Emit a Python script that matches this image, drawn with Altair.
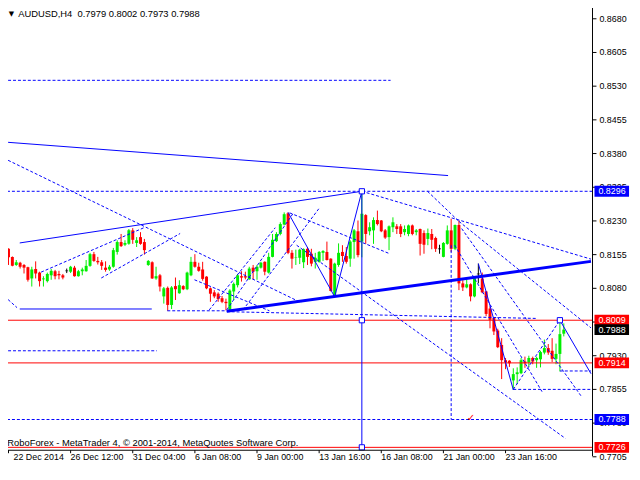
import altair as alt
import pandas as pd

# ---------------- candle data (H4 bars, index 0..143) ----------------
opens = [.8168, .8150, .8132, .8137, .8132, .8127, .8102, .8123, .8115, .8100,
         .8096, .8109, .8118, .8112, .8109, .8119, .8117, .8126, .8107, .8118,
         .8118, .8130, .8156, .8141, .8138, .8126, .8122, .8128, .8161, .8183,
         .8177, .8179, .8209, .8181, .8194, .8183, .8132, .8138, .8102, .8109,
         .8062, .8081, .8043, .8085, .8069, .8085, .8078, .8109, .8139, .8128,
         .8122, .8106, .8080, .8071, .8068, .8058, .8050, .8032, .8073, .8087,
         .8107, .8107, .8100, .8126, .8118, .8126, .8139, .8115, .8150, .8185,
         .8201, .8222, .8247, .8159, .8148, .8148, .8138, .8168, .8157, .8139,
         .8139, .8159, .8161, .8146, .8062, .8132, .8161, .8152, .8146, .8183,
         .8207, .8184, .8243, .8207, .8209, .8232, .8231, .8209, .8194, .8216,
         .8218, .8218, .8205, .8201, .8220, .8205, .8212, .8203, .8190, .8201,
         .8192, .8168, .8150, .8179, .8209, .8168, .8221, .8091, .8082, .8089,
         .8062, .8112, .8102, .8073, .8035, .8014, .7986, .7954, .7920, .7919,
         .7875, .7889, .7891, .7917, .7915, .7925, .7920, .7922, .7937, .7947,
         .7941, .7923, .7934, .7979]
highs = [.8169, .8151, .8143, .8139, .8134, .8128, .8128, .8140, .8117, .8107,
         .8115, .8123, .8121, .8119, .8112, .8124, .8130, .8130, .8121, .8126,
         .8143, .8159, .8161, .8150, .8143, .8140, .8132, .8170, .8187, .8201,
         .8187, .8212, .8214, .8194, .8205, .8190, .8143, .8140, .8128, .8112,
         .8083, .8084, .8085, .8104, .8098, .8087, .8117, .8150, .8156, .8137,
         .8139, .8107, .8082, .8076, .8071, .8063, .8057, .8078, .8093, .8112,
         .8118, .8117, .8128, .8132, .8132, .8139, .8140, .8159, .8201, .8205,
         .8227, .8249, .8249, .8165, .8166, .8168, .8169, .8172, .8168, .8159,
         .8163, .8165, .8184, .8147, .8137, .8180, .8176, .8172, .8187, .8212,
         .8231, .8296, .8245, .8227, .8238, .8253, .8232, .8212, .8220, .8238,
         .8223, .8223, .8220, .8222, .8222, .8212, .8213, .8209, .8213, .8212,
         .8195, .8177, .8183, .8220, .8235, .8222, .8231, .8098, .8100, .8091,
         .8106, .8135, .8115, .8074, .8040, .8015, .7990, .7969, .7925, .7920,
         .7902, .7904, .7925, .7928, .7930, .7928, .7928, .7941, .7966, .7956,
         .7969, .7957, .8009, .8002]
lows = [.8132, .8129, .8130, .8124, .8113, .8095, .8084, .8102, .8084, .8084,
        .8093, .8099, .8100, .8100, .8100, .8114, .8114, .8106, .8106, .8109,
        .8117, .8128, .8139, .8133, .8121, .8117, .8119, .8126, .8155, .8172,
        .8174, .8177, .8179, .8172, .8177, .8155, .8130, .8101, .8099, .8073,
        .8046, .8030, .8034, .8054, .8068, .8076, .8076, .8107, .8126, .8117,
        .8097, .8078, .8050, .8058, .8050, .8047, .8031, .8029, .8054, .8082,
        .8095, .8100, .8099, .8100, .8099, .8124, .8109, .8113, .8149, .8183,
        .8198, .8220, .8156, .8124, .8132, .8134, .8125, .8132, .8129, .8124,
        .8137, .8141, .8142, .8073, .8061, .8128, .8139, .8135, .8128, .8146,
        .8149, .8149, .8179, .8198, .8179, .8220, .8205, .8190, .8165, .8205,
        .8201, .8194, .8198, .8196, .8198, .8198, .8153, .8157, .8176, .8167,
        .8161, .8157, .8149, .8177, .8161, .8165, .8076, .8074, .8080, .8051,
        .8060, .8091, .8069, .8018, .7991, .7976, .7947, .7878, .7900, .7905,
        .7854, .7867, .7889, .7903, .7904, .7911, .7903, .7904, .7933, .7932,
        .7916, .7911, .7895, .7973]
closes = [.8149, .8130, .8138, .8128, .8126, .8099, .8122, .8113, .8096, .8102,
          .8112, .8119, .8107, .8109, .8104, .8119, .8128, .8107, .8118, .8122,
          .8130, .8156, .8141, .8138, .8130, .8121, .8128, .8165, .8183, .8174,
          .8181, .8209, .8188, .8187, .8179, .8165, .8141, .8102, .8107, .8084,
          .8080, .8043, .8082, .8078, .8087, .8078, .8115, .8139, .8128, .8119,
          .8101, .8080, .8068, .8062, .8056, .8050, .8047, .8075, .8090, .8109,
          .8104, .8104, .8124, .8117, .8128, .8137, .8117, .8150, .8188, .8201,
          .8223, .8245, .8159, .8146, .8149, .8166, .8167, .8150, .8135, .8148,
          .8161, .8163, .8143, .8074, .8135, .8159, .8152, .8139, .8184, .8209,
          .8154, .8246, .8201, .8216, .8232, .8223, .8207, .8193, .8218, .8227,
          .8212, .8201, .8212, .8220, .8201, .8209, .8179, .8177, .8203, .8188,
          .8168, .8168, .8181, .8209, .8168, .8221, .8091, .8082, .8089, .8062,
          .8104, .8112, .8071, .8023, .8010, .7984, .7949, .7920, .7915, .7913,
          .7889, .7893, .7920, .7913, .7925, .7917, .7925, .7938, .7947, .7937,
          .7923, .7934, .7978, .7988]

# ---------------- axes ----------------
time_label_bars = [0, 16, 32, 48, 64, 80, 96, 112, 128]
time_labels = ["22 Dec 2014", "26 Dec 12:00", "31 Dec 04:00", "6 Jan 08:00", "9 Jan 00:00",
               "13 Jan 16:00", "16 Jan 08:00", "21 Jan 00:00", "23 Jan 16:00"]
price_ticks = [0.8680, 0.8605, 0.8530, 0.8455, 0.8380, 0.8305, 0.8230, 0.8155,
               0.8080, 0.8005, 0.7930, 0.7855, 0.7780, 0.7705]
# 0.8005 sits fully under the 0.8009 / 0.7988 price tags, so its text is not shown
price_label_values = [0.8680, 0.8605, 0.8530, 0.8455, 0.8380, 0.8305, 0.8230, 0.8155,
                      0.8080, 0.7930, 0.7855, 0.7780, 0.7705]

# ---------------- drawn objects (bar index, price) ----------------
seg_bar1 = [-0.1, 2.9, 2.9, 91, 72, 84, 142, 121,
            56.2,
            -0.1, 8.4, 23.9, 40.9, 56.2, 51.7, 56.2, 60.4, 72.4, 47.9, 91, 107.9,
            116, 116.7, 114.9, 74.2, 130, 142, 114, -0.1, -0.1, -0.1, 130]
seg_price1 = [0.8405, 0.8181, 0.8034, 0.8296, 0.8249, 0.8061, 0.8009, 0.8135,
              0.8029,
              0.8365, 0.8116, 0.8103, 0.8030, 0.8028, 0.8032, 0.8032, 0.8032, 0.8248, 0.8099, 0.8296, 0.8296,
              0.8229, 0.8213, 0.8176, 0.8176, 0.7855, 0.7896, 0.8176, 0.8055, 0.8543, 0.7941, 0.7855]
seg_bar2 = [113.2, 91, 36.9, 91, 84, 91, 150, 130,
            150,
            75.4, 34.9, 44.2, 56.2, 135.9, 68.7, 73.4, 79.9, 97.9, 67.2, 150, 116,
            150, 147.4, 137.4, 143.4, 150, 150, 114, 2.2, 98.4, 38.2, 142]
seg_price2 = [0.8331, 0.8296, 0.8034, 0.7726, 0.8061, 0.8296, 0.7890, 0.7854,
              0.8140,
              0.8048, 0.8215, 0.8202, 0.8030, 0.8013, 0.8215, 0.8248, 0.8257, 0.8158, 0.8030, 0.8145, 0.8229,
              0.7992, 0.7841, 0.7850, 0.7746, 0.7855, 0.7896, 0.7788, 0.8037, 0.8543, 0.7941, 0.8009]
seg_kind = (["thin"] * 8 + ["thick"] + ["dash"] * 23)

red_levels = [0.8009, 0.7914, 0.7726]
blue_levels = [0.8296, 0.7788]
marker_bars = [91, 91, 91, 142]
marker_prices = [0.8296, 0.8009, 0.7726, 0.8009]

box_prices = [0.8296, 0.8009, 0.7988, 0.7914, 0.7788, 0.7726]
box_texts = ["0.8296", "0.8009", "0.7988", "0.7914", "0.7788", "0.7726"]
box_colors = ["#0000ff", "#ff0000", "#000000", "#ff0000", "#0000ff", "#ff0000"]

header = "AUDUSD,H4\u00a0\u00a00.7979 0.8002 0.7973 0.7988"
footer = "RoboForex - MetaTrader 4, \u00a9 2001-2014, MetaQuotes Software Corp."
check_bar, check_price = 119.05, 0.7792

# ---------------- build ----------------
W, H = 597, 451
XDOM = [-0.125, 149.125]
YDOM = [0.771956, 0.871077]
FONT = "Liberation Sans"
BLUE = "#0000ff"

n = len(opens)
df = pd.DataFrame({"bar": list(range(n)), "open": opens, "high": highs,
                   "low": lows, "close": closes})
df["dir"] = ["up" if c > o else ("down" if c < o else "flat") for o, c in zip(opens, closes)]
seg = pd.DataFrame({"b1": seg_bar1, "p1": seg_price1, "b2": seg_bar2, "p2": seg_price2, "kind": seg_kind})

xs = alt.Scale(domain=XDOM, nice=False, zero=False)
ys = alt.Scale(domain=YDOM, nice=False, zero=False)


def X(f):
    return alt.X(f, scale=xs, axis=None)


def Y(f):
    return alt.Y(f, scale=ys, axis=None)


col = alt.Color("dir:N", scale=alt.Scale(domain=["up", "down", "flat"],
                                         range=["#00ee00", "#ff0000", "#000000"]), legend=None)

base = alt.Chart(df)
wicks = base.mark_rule(strokeWidth=1).encode(x=X("bar:Q"), y=Y("low:Q"), y2="high:Q", color=col)
bodies = base.transform_filter("datum.dir != 'flat'").mark_bar(size=3).encode(
    x=X("bar:Q"), y=Y("open:Q"), y2="close:Q", color=col)
dojis = base.transform_filter("datum.dir == 'flat'").mark_tick(
    orient="horizontal", size=3, thickness=1, color="black").encode(x=X("bar:Q"), y=Y("open:Q"))

hred = alt.Chart(pd.DataFrame({"p": red_levels})).mark_rule(color="#ff0000", strokeWidth=1).encode(y=Y("p:Q"))
hblue = alt.Chart(pd.DataFrame({"p": blue_levels})).mark_rule(
    color=BLUE, strokeWidth=1, strokeDash=[3, 2]).encode(y=Y("p:Q"))


def seg_layer(kind, **kw):
    return alt.Chart(seg).transform_filter("datum.kind == '%s'" % kind).mark_rule(
        color=BLUE, clip=True, **kw).encode(x=X("b1:Q"), x2="b2:Q", y=Y("p1:Q"), y2="p2:Q")


thin = seg_layer("thin", strokeWidth=1)
thick = seg_layer("thick", strokeWidth=3)
dash = seg_layer("dash", strokeWidth=1, strokeDash=[3, 2])

markers = alt.Chart(pd.DataFrame({"b": marker_bars, "p": marker_prices})).mark_point(
    shape="square", filled=True, fill="white", stroke=BLUE, strokeWidth=1, size=28, opacity=1).encode(
    x=X("b:Q"), y=Y("p:Q"))

# frame / axes drawn by hand
frame = alt.Chart(pd.DataFrame({"k": [0]}))
bottom_line = frame.mark_rule(color="black").encode(x=alt.value(0), x2=alt.value(W), y=alt.value(H))
right_line = frame.mark_rule(color="black").encode(x=alt.value(W), y=alt.value(0), y2=alt.value(H + 6))

pticks = alt.Chart(pd.DataFrame({"p": price_ticks})).mark_rule(color="black").encode(
    y=Y("p:Q"), x=alt.value(W), x2=alt.value(W + 4))
plabels = alt.Chart(pd.DataFrame({"p": price_label_values})).mark_text(
    align="left", baseline="middle", font=FONT, fontSize=9, color="black").encode(
    y=Y("p:Q"), x=alt.value(W + 7), text=alt.Text("p:Q", format=".4f"))

ttick_df = pd.DataFrame({"bar": time_label_bars, "t": time_labels})
tticks = alt.Chart(ttick_df).mark_rule(color="black").encode(
    x=X("bar:Q"), y=alt.value(H), y2=alt.value(H + 3))
tlabels = alt.Chart(ttick_df).transform_calculate(lx="max(datum.bar, 1.3)").mark_text(
    align="left", baseline="alphabetic", font=FONT, fontSize=9, color="black").encode(
    x=X("lx:Q"), y=alt.value(H + 9.5), text="t:N")

boxdf = pd.DataFrame({"p": box_prices, "t": box_texts, "c": box_colors})
boxes = alt.Chart(boxdf).mark_point(
    shape="M-1.75,-0.55L1.75,-0.55L1.75,0.55L-1.75,0.55Z", filled=True, size=400,
    opacity=1, strokeWidth=0).encode(
    x=alt.value(W + 19.5), y=Y("p:Q"), color=alt.Color("c:N", scale=None, legend=None))
boxtext = alt.Chart(boxdf).mark_text(
    align="left", baseline="middle", color="white", font=FONT, fontSize=9).encode(
    x=alt.value(W + 6), y=Y("p:Q"), text="t:N")

tri = alt.Chart(pd.DataFrame({"t": ["\u25bc"]})).mark_text(
    align="center", baseline="middle", font="DejaVu Sans", fontSize=7, color="black").encode(
    x=alt.value(8.5), y=alt.value(9.5), text="t:N")
head = alt.Chart(pd.DataFrame({"t": [header]})).mark_text(
    align="left", baseline="alphabetic", font=FONT, fontSize=9.5, color="black").encode(
    x=alt.value(15.3), y=alt.value(12), text="t:N")
foot = alt.Chart(pd.DataFrame({"t": [footer]})).mark_text(
    align="left", baseline="alphabetic", font=FONT, fontSize=9.5, color="black").encode(
    x=alt.value(4.3), y=alt.value(446.3), text="t:N")
check = alt.Chart(pd.DataFrame({"b": [check_bar], "p": [check_price], "t": ["\u2713"]})).mark_text(
    font="DejaVu Sans", fontSize=10, color="#ff0000", baseline="middle").encode(
    x=X("b:Q"), y=Y("p:Q"), text="t:N")

chart = alt.layer(
    wicks, bodies, dojis, hred, hblue, dash, thin, thick, markers,
    bottom_line, right_line, pticks, plabels, tticks, tlabels,
    boxes, boxtext, tri, head, foot, check
).properties(
    width=W, height=H,
    padding={"left": -5, "top": -6, "right": 40, "bottom": 10},
    autosize=alt.AutoSizeParams(type="none"),
    background="white",
).configure_view(stroke=None)

chart.save("out.html", embed_options={"renderer": "svg", "actions": False})
